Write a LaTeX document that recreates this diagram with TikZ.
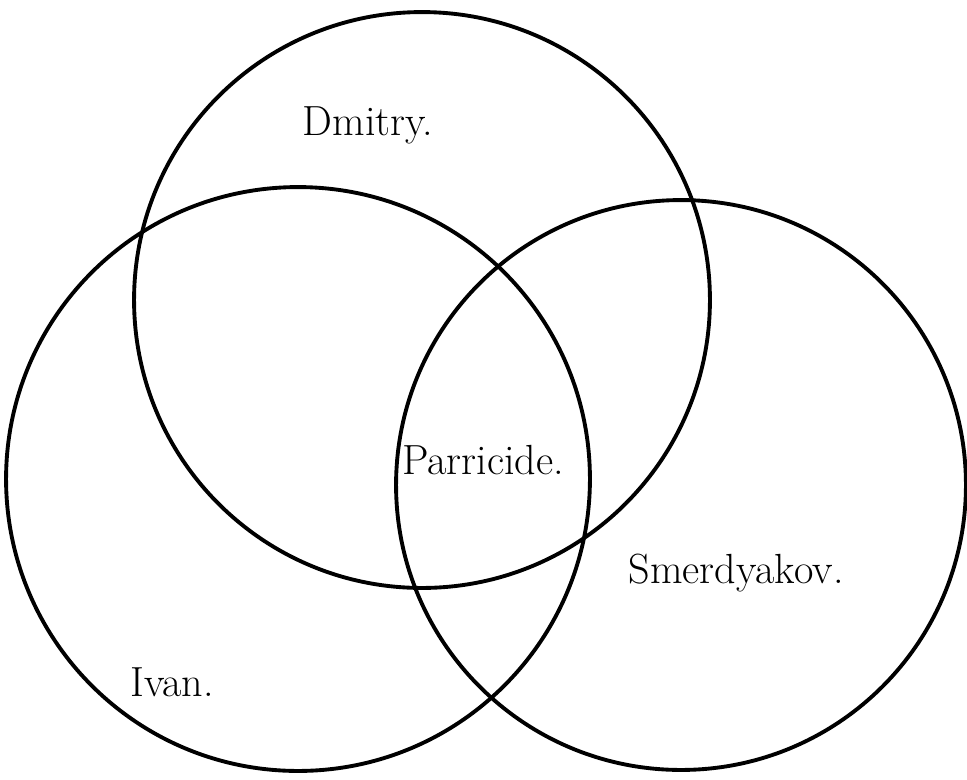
\documentclass[tikz,border=0pt]{standalone}
\usepackage{tikz}
\usetikzlibrary{positioning}

\begin{document}
\begin{tikzpicture}[
  x=0.02cm,y=-0.02cm,
  ring/.style={draw=black,line width=2.2pt},
  who/.style={font=\fontsize{24}{28}\selectfont,inner sep=0pt}
]
\useasboundingbox (0,0) rectangle (967,779);
\draw[ring] (422,300) circle[radius=5.76cm];
\draw[ring] (298,479) circle[radius=5.84cm];
\draw[ring] (681,485) circle[radius=5.70cm];
\node[who] (dmitry) at (368,125) {Dmitry.};
\node[who] (parricide) at (483,460) {Parricide.};
\node[who] (smerdyakov) at (736,573) {Smerdyakov.};
\node[who] (ivan) at (172,682) {Ivan.};
\end{tikzpicture}
\end{document}
